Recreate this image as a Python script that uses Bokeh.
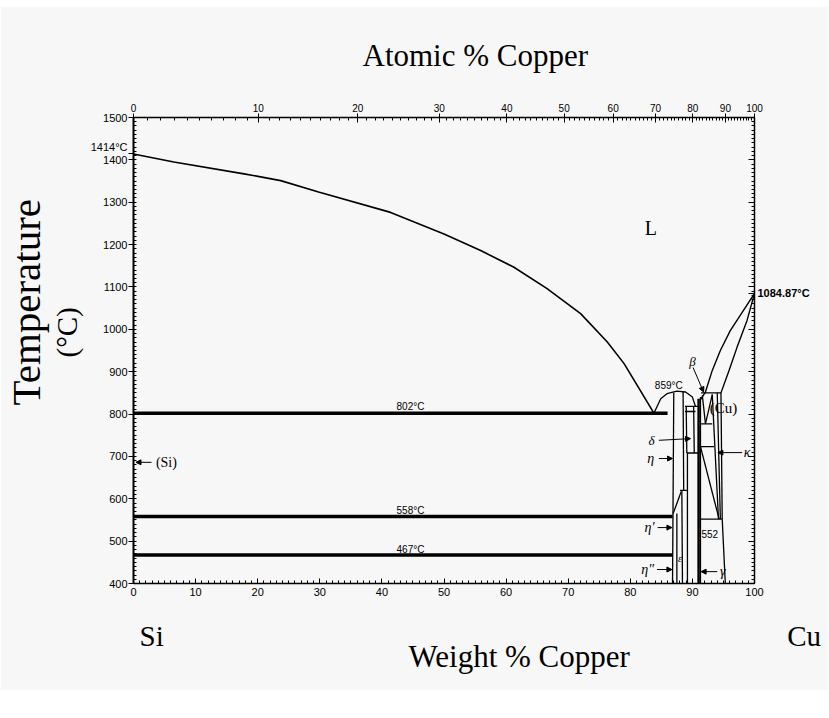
import math
from bokeh.plotting import figure
from bokeh.layouts import column
from bokeh.models import (Range1d, LinearAxis, FixedTicker, CustomJSTickFormatter, Label, Arrow,
                          NormalHead, ColumnDataSource, Title, Spacer)
from bokeh.embed import file_html
from bokeh.resources import INLINE

# ---------------- data (weight % Cu, temperature degC) ----------------
si_liq_wt = [0, 6.5, 17.8, 23.7, 29.8, 41.4, 50.0, 55.9, 61.2, 66.6, 72.0, 76.3, 79.0, 81.6, 83.8]
si_liq_T = [1414, 1395, 1367, 1351, 1324, 1276, 1225, 1186, 1147, 1096, 1037, 970, 919, 856, 802]

dome_wt = [83.8, 84.9, 85.9, 87.5, 88.9, 90.0, 90.5]
dome_T = [802, 836, 848, 854, 852, 840, 818]

cu_liq_wt = [100, 97.7, 96.1, 94.5, 93.2, 92.1, 91.3]
cu_liq_T = [1084.87, 1033, 997, 950, 903, 852, 834]

cu_sol_wt = [100, 98.8, 97.2, 95.9, 94.6]
cu_sol_T = [1084.87, 1021, 958, 903, 850]

iso_T = [802, 558, 467]
iso_start_wt = [0, 0, 0]
iso_end_wt = [86.0, 86.8, 86.8]

# thin phase boundaries in the Cu-rich corner
bd_x0 = [87.0, 88.5, 88.0, 88.3, 86.9, 87.5, 88.8, 88.8, 89.0, 90.2, 89.1, 89.2, 91.3,
         91.6, 93.2, 91.3, 91.4, 91.3, 93.2, 94.0, 94.6, 94.8, 91.3, 91.3]
bd_y0 = [850, 852, 620, 620, 565, 565, 818, 806, 818, 818, 708, 708, 840,
         844, 846, 777, 850, 723, 846, 850, 850, 552, 723, 552]
bd_x1 = [86.8, 88.6, 89.1, 88.4, 88.2, 87.5, 91.0, 90.5, 89.1, 90.3, 91.0, 89.2, 91.3,
         92.1, 92.1, 93.2, 94.6, 93.5, 94.2, 94.5, 94.8, 95.3, 94.3, 94.8]
bd_y1 = [400, 620, 620, 400, 617, 400, 818, 806, 708, 708, 708, 400, 400,
         777, 777, 777, 850, 723, 552, 552, 552, 400, 552, 552]

gamma_wt = [91.0, 91.0]
gamma_T = [836, 400]

bottom_ticks = list(range(0, 101, 10))
left_ticks = list(range(400, 1501, 100)) + [1414]
right_ticks = list(range(400, 1501, 100)) + [1084.87]
atomic_ticks = list(range(0, 101, 10))
M_CU, M_SI = 63.546, 28.0855


def wt_from_at(a):
    return 100.0 * a * M_CU / (a * M_CU + (100 - a) * M_SI)


# ---------------- figure ----------------
BG = "#f7f7f7"
TOP_GAP = 6
p = figure(width=828, height=690 - TOP_GAP, x_range=Range1d(0, 100), y_range=Range1d(400, 1500),
           output_backend="svg", toolbar_location=None,
           min_border_left=133, min_border_right=74, min_border_top=117 - TOP_GAP,
           min_border_bottom=107,
           background_fill_color=BG, border_fill_color=BG, outline_line_color=None)
p.xgrid.visible = False
p.ygrid.visible = False

TICK_FONT = "Liberation Sans"
SERIF = "Liberation Serif"

# bottom axis (weight %)
xa = p.xaxis[0]
xa.ticker = FixedTicker(ticks=bottom_ticks, minor_ticks=list(range(0, 101, 1)))
xa.major_tick_in = 5
xa.major_tick_out = 0
xa.minor_tick_in = 3
xa.minor_tick_out = 0
xa.axis_line_width = 1.5
xa.major_label_text_font = TICK_FONT
xa.major_label_text_font_size = "11px"
xa.major_label_text_color = "black"
xa.major_label_standoff = 4

# left axis (temperature)
ya = p.yaxis[0]
ya.ticker = FixedTicker(ticks=left_ticks, minor_ticks=list(range(400, 1501, 10)))
ya.formatter = CustomJSTickFormatter(code="""
    if (Math.abs(tick - 1414) < 0.01) { return '1414°C\\n '; }
    return tick.toFixed(0);""")
ya.major_tick_in = 0
ya.major_tick_out = 5
ya.minor_tick_in = 3
ya.minor_tick_out = 0
ya.axis_line_width = 2
ya.major_label_text_font = TICK_FONT
ya.major_label_text_font_size = "11px"
ya.major_label_text_color = "black"
ya.major_label_standoff = 1

# top axis (atomic %)
top = LinearAxis(
    ticker=FixedTicker(ticks=[wt_from_at(a) for a in atomic_ticks],
                       minor_ticks=[wt_from_at(a) for a in range(0, 101)]),
    formatter=CustomJSTickFormatter(code="""
        var a = (tick/63.546)/((tick/63.546)+((100-tick)/28.0855))*100;
        return Math.round(a).toString();"""))
top.major_tick_in = 5
top.major_tick_out = 4
top.minor_tick_in = 3
top.minor_tick_out = 0
top.axis_line_width = 1.5
top.major_label_text_font = TICK_FONT
top.major_label_text_font_size = "10px"
top.major_label_text_color = "black"
top.major_label_standoff = 2
p.add_layout(top, "above")

# right axis (only the melting point of Cu is labelled)
right = LinearAxis(ticker=FixedTicker(ticks=right_ticks, minor_ticks=list(range(400, 1501, 10))),
                   formatter=CustomJSTickFormatter(code="""
    if (Math.abs(tick - 1084.87) < 0.01) { return '1084.87°C'; }
    return '';"""))
right.major_tick_in = 6
right.major_tick_out = 0
right.minor_tick_in = 3
right.minor_tick_out = 0
right.axis_line_width = 1.5
right.major_label_text_font = TICK_FONT
right.major_label_text_font_size = "11px"
right.major_label_text_font_style = "bold"
right.major_label_text_color = "black"
right.major_label_standoff = 3
p.add_layout(right, "right")


def title(text, side, size, align, offset, standoff, valign="bottom"):
    p.add_layout(Title(text=text, align=align, offset=offset, standoff=standoff,
                       vertical_align=valign, text_font=SERIF, text_font_size=size,
                       text_font_style="normal", text_color="black"), side)


# outer titles
title("Atomic % Copper", "above", "31px", "left", 229, 56)
title("(°C)", "left", "29px", "left", 226, 5, "top")
title("Temperature", "left", "41px", "left", 178, 0)
NB = "\u00a0"
title("Si" + NB * 86 + "Cu", "below", "29px", "left", 6, 38)
title("Weight % Copper", "below", "31px", "left", 275, -63, "top")

# ---------------- phase boundaries ----------------
p.line(si_liq_wt, si_liq_T, line_color="black", line_width=1.6)
p.line(dome_wt, dome_T, line_color="black", line_width=1.3)
p.line(cu_liq_wt, cu_liq_T, line_color="black", line_width=1.4)
p.line(cu_sol_wt, cu_sol_T, line_color="black", line_width=1.4)

iso = ColumnDataSource(dict(x0=iso_start_wt, x1=iso_end_wt, y=iso_T))
p.segment(x0="x0", y0="y", x1="x1", y1="y", source=iso, line_color="black", line_width=3.5)

bd = ColumnDataSource(dict(x0=bd_x0, y0=bd_y0, x1=bd_x1, y1=bd_y1))
p.segment(x0="x0", y0="y0", x1="x1", y1="y1", source=bd, line_color="black", line_width=1.3)
p.line(gamma_wt, gamma_T, line_color="black", line_width=2.5)


# ---------------- texts inside the frame ----------------
def lab(x, y, text, size, font=TICK_FONT, align="center", baseline="middle", style="normal"):
    p.add_layout(Label(x=x, y=y, text=text, text_font=font, text_font_size=size,
                       text_align=align, text_baseline=baseline,
                       text_font_style=style, text_color="black"))


lab(83.3, 1238, "L", "20px", SERIF)
lab(44.6, 818, "802°C", "10px")
lab(44.6, 572, "558°C", "10px")
lab(44.6, 480, "467°C", "10px")
lab(86.2, 867, "859°C", "10px")
lab(95.0, 815, "(Cu)", "15px", SERIF)
lab(90.0, 924, "β", "13px", SERIF, style="italic")
lab(83.4, 738, "δ", "13px", SERIF, style="italic")
lab(83.3, 695, "η", "14px", SERIF, style="italic")
lab(98.8, 709, "κ", "14px", SERIF, style="italic")
lab(83.1, 532, "η′", "14px", SERIF, style="italic")
lab(92.8, 518, "552", "10px")
lab(82.8, 433, "η″", "14px", SERIF, style="italic")
lab(94.9, 428, "γ", "14px", SERIF, style="italic")
lab(88.0, 459, "ε", "10px", SERIF, style="italic")
lab(5.3, 686, "(Si)", "14px", SERIF)

# arrows
for xs, ys, xe, ye in [(90.1, 910, 91.8, 852), (84.6, 738, 89.7, 742), (84.6, 695, 86.8, 695),
                       (98.0, 709, 94.1, 709), (84.4, 532, 86.7, 532), (84.3, 433, 86.7, 433),
                       (94.0, 428, 91.4, 428), (2.9, 686, 0.4, 686)]:
    p.add_layout(Arrow(end=NormalHead(size=5, fill_color="black", line_color="black"),
                       x_start=xs, y_start=ys, x_end=xe, y_end=ye,
                       line_color="black", line_width=1))

page = column(Spacer(width=828, height=TOP_GAP), p, spacing=0)
open("out.html", "w").write(file_html(page, INLINE))
